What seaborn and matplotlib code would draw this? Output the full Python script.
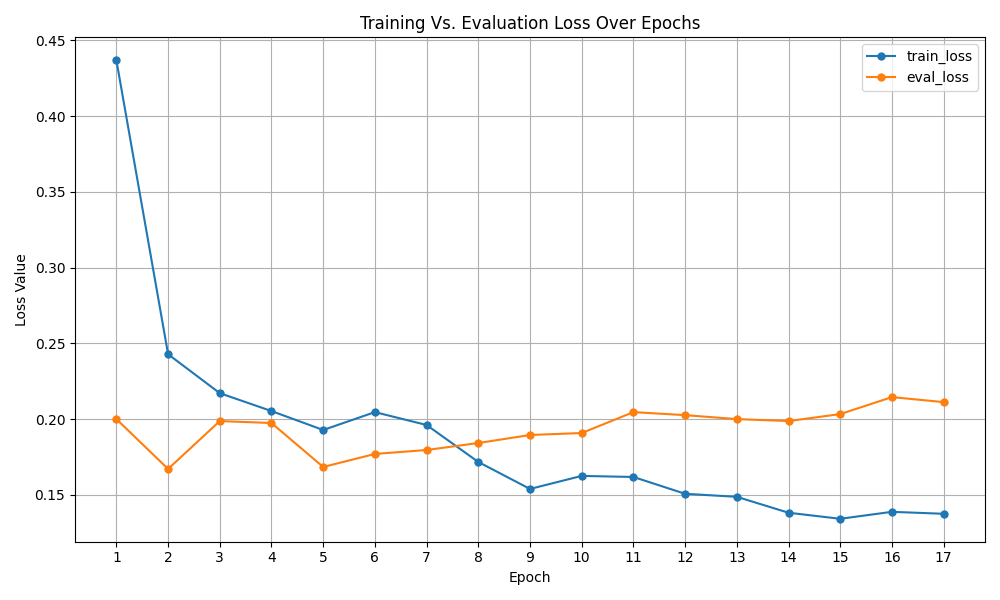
import matplotlib
matplotlib.use("Agg")
import matplotlib.pyplot as plt
import seaborn as sns
import pandas as pd

epochs = list(range(1, 18))
train_loss = [0.4368, 0.2428, 0.2171, 0.2053, 0.1928, 0.2046, 0.1961, 0.1717, 0.1539,
              0.1625, 0.1618, 0.1507, 0.1487, 0.1382, 0.1342, 0.1388, 0.1375]
eval_loss = [0.2000, 0.1671, 0.1987, 0.1974, 0.1684, 0.1770, 0.1796, 0.1842, 0.1895,
             0.1908, 0.2046, 0.2026, 0.2000, 0.1987, 0.2033, 0.2145, 0.2112]

df = pd.DataFrame({"Epoch": epochs, "train_loss": train_loss, "eval_loss": eval_loss})

fig, ax = plt.subplots(figsize=(10, 6), dpi=100)
for col, color in [("train_loss", "#1f77b4"), ("eval_loss", "#ff7f0e")]:
    sns.lineplot(data=df, x="Epoch", y=col, ax=ax, marker="o", markersize=6,
                 markeredgewidth=0, color=color, label=col)
ax.set_xticks(epochs)
ax.set_title("Training Vs. Evaluation Loss Over Epochs")
ax.set_xlabel("Epoch")
ax.set_ylabel("Loss Value")
ax.grid(True)
ax.legend(loc="upper right")
fig.tight_layout()
fig.savefig("out.png")
